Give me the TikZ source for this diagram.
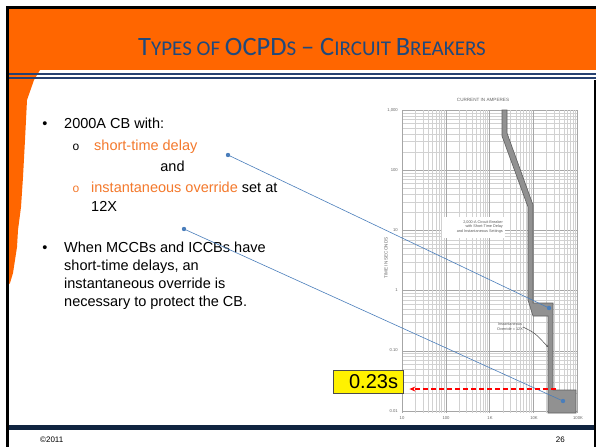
\documentclass[tikz,border=0pt]{standalone}
\usepackage{fontspec}
\setmainfont{Liberation Sans}
\newfontfamily\titlefont{Carlito}
\newfontfamily\monofont{Liberation Mono}
\usetikzlibrary{arrows.meta}

\definecolor{hdrorange}{RGB}{255,102,0}
\definecolor{titlenavy}{RGB}{31,73,125}
\definecolor{rulenavy}{RGB}{37,64,112}
\definecolor{footnavy}{RGB}{16,36,64}
\definecolor{txtorange}{RGB}{244,121,44}
\definecolor{callblue}{RGB}{74,126,187}
\definecolor{curvefill}{RGB}{145,145,145}
\definecolor{curveedge}{RGB}{95,95,95}

% title lettering: full capitals and reduced capitals
\newcommand\tcap[1]{{\fontsize{26.5}{30}\selectfont #1}}
\newcommand\tsml[1]{{\fontsize{21}{24}\selectfont #1}}

\tikzset{
  bodytext/.style={anchor=base west, inner sep=0, font=\fontsize{14.5}{18}\selectfont},
  bulletmark/.style={anchor=base, inner sep=0, font=\fontsize{14.5}{18}\selectfont},
  subbullet/.style={anchor=base, inner sep=0, font=\monofont\fontsize{12}{14}\selectfont},
  gridminor/.style={draw=black!18, line width=0.35pt},
  gridmajor/.style={draw=black!35, line width=0.45pt},
  ticklbl/.style={inner sep=0, text=black!60, font=\fontsize{4.2}{5}\selectfont},
  chartnote/.style={inner sep=0, text=black!65, font=\fontsize{3.8}{4.6}\selectfont},
  calloutline/.style={draw=callblue, line width=0.6pt},
  calldot/.style={fill=callblue},
}

\begin{document}
\begin{tikzpicture}[x=1pt,y=-1pt]
\useasboundingbox (0,0) rectangle (596,447);
\fill[white] (0,0) rectangle (596,447);

% ---------- header ----------
\fill[hdrorange] (9,9) rectangle (596,70);
\fill[hdrorange] (9,70) -- (40,70) -- (34,80) -- (27,100) -- (25,140) -- (23,177)
  -- (21,207) -- (18,230) -- (17,247) -- (15,260) -- (13,273) -- (10,283) -- (9,284) -- cycle;
\draw[rulenavy, line width=2.3pt] (9,73.8) -- (596,73.8);
\draw[rulenavy, line width=2.3pt] (9,78.3) -- (596,78.3);
\node[inner sep=0, text=titlenavy, font=\titlefont] (title) at (312,47)
  {\tcap{T}\tsml{YPES OF }\tcap{OCPD}\tsml{S }\tcap{– C}\tsml{IRCUIT }\tcap{B}\tsml{REAKERS}};

% ---------- frame and footer ----------
\draw[black, line width=3pt] (7.5,6) -- (7.5,447);
\draw[black, line width=2.5pt] (6,7.5) -- (596,7.5);
\draw[black, line width=2pt] (595,80) -- (595,447);
\fill[footnavy] (9,425) rectangle (594,430);
\node[anchor=base west, inner sep=0, font=\fontsize{8}{9}\selectfont] (copy) at (40,442) {©2011};
\node[anchor=base east, inner sep=0, font=\fontsize{8}{9}\selectfont] (pageno) at (565,442) {26};

% ---------- bullet text ----------
\node[bulletmark] (b1) at (45,128) {•};
\node[bodytext] (l1) at (64,128) {2000A CB with:};
\node[subbullet] (s1) at (76,150) {o};
\node[bodytext, text=txtorange] (l2) at (94,150) {short-time delay};
\node[anchor=base, inner sep=0, font=\fontsize{14.5}{18}\selectfont] (l3) at (172.5,171) {and};
\node[subbullet, text=txtorange] (s2) at (76,192) {o};
\node[bodytext] (l4) at (91,192) {\textcolor{txtorange}{instantaneous override} set at};
\node[bodytext] (l5) at (91,211) {12X};
\node[bulletmark] (b2) at (45,252) {•};
\node[bodytext] (l6) at (64,252) {When MCCBs and ICCBs have};
\node[bodytext] (l7) at (64,270) {short-time delays, an};
\node[bodytext] (l8) at (64,288) {instantaneous override is};
\node[bodytext] (l9) at (64,306) {necessary to protect the CB.};

% ---------- time-current chart ----------
% horizontal lines: 0.01 s at y=411, one decade = 60.2
\foreach \d in {-2,-1,0,1,2}{
  \foreach \m in {1,...,9}{
    \pgfmathsetmacro\yy{411-60.2*(\d+2+log10(\m))}
    \ifnum\m=1 \draw[gridmajor] (402,\yy) -- (577,\yy);
    \else \draw[gridminor] (402,\yy) -- (577,\yy); \fi
  }
}
\draw[gridmajor] (402,110) -- (577,110);
% vertical lines: 10 A at x=402, one decade = 43.75
\foreach \d in {1,2,3,4}{
  \foreach \m in {1,...,9}{
    \pgfmathsetmacro\xx{402+43.75*(\d-1+log10(\m))}
    \ifnum\m=1 \draw[gridmajor] (\xx,110) -- (\xx,413);
    \else \draw[gridminor] (\xx,110) -- (\xx,413); \fi
  }
}
\draw[gridmajor] (577,110) -- (577,413);

% axis captions and tick labels
\node[ticklbl, font=\fontsize{4.6}{5.5}\selectfont] (xcap) at (483,100) {CURRENT IN AMPERES};
\node[ticklbl, rotate=90, font=\fontsize{4.6}{5.5}\selectfont] (ycap) at (386,258) {TIME IN SECONDS};
\node[ticklbl, anchor=east] (t1000) at (398,110) {1,000};
\node[ticklbl, anchor=east] (t100) at (398,170) {100};
\node[ticklbl, anchor=east] (t10) at (398,230) {10};
\node[ticklbl, anchor=east] (t1) at (398,290) {1};
\node[ticklbl, anchor=east] (t010) at (398,350) {0.10};
\node[ticklbl, anchor=east] (t001) at (398,411) {0.01};
\node[ticklbl] (a10) at (402,418) {10};
\node[ticklbl] (a100) at (446,418) {100};
\node[ticklbl] (a1k) at (490,418) {1K};
\node[ticklbl] (a10k) at (534,418) {10K};
\node[ticklbl] (a100k) at (578,418) {100K};

% breaker trip band
\filldraw[fill=curvefill, draw=curveedge, line width=0.6pt]
  (502,110) -- (502,136) -- (528,207) -- (528,300) -- (533,316) -- (548,316)
  -- (548,413) -- (576,413) -- (576,390) -- (553,390) -- (553,303) -- (533,303)
  -- (533,205) -- (507,133) -- (507,110) -- cycle;

% chart notes
\fill[white] (442,217) rectangle (505,238);
\node[chartnote, align=right, anchor=east] (cbnote) at (503,227)
  {2,000-A Circuit Breaker\\with Short-Time Delay\\and Instantaneous Settings};
\node[chartnote, align=center] (instnote) at (510,327) {Instantaneous\\Override = 12X};
\coordinate (insttip) at (548,347);
\draw[black!70, line width=0.5pt, -{Stealth[length=2.5pt,width=2pt]}]
  (instnote.east) .. controls (535,333) .. (insttip);

% ---------- callouts ----------
\coordinate (p1) at (228,155);
\coordinate (q1) at (549,308);
\coordinate (p2) at (184,229);
\coordinate (q2) at (563,401);
\draw[calloutline] (p1) -- (q1);
\draw[calloutline] (p2) -- (q2);
\foreach \c in {p1,q1,p2,q2} \fill[calldot] (\c) circle (2.2pt);

% trip time marker
\node[draw=black!70, fill=yellow, line width=0.8pt, minimum width=70pt, minimum height=23pt,
  inner sep=0, text width=60pt, align=right, font=\fontsize{20}{22}\selectfont] (tbox)
  at (368,381.5) {0.23s};
\coordinate (r1) at (556,389);
\draw[red, line width=1.3pt, dash pattern=on 5pt off 3pt, shorten >=6pt,
  -{Stealth[length=6pt,width=5pt]}] (r1) -- (r1 -| tbox.east);

\end{tikzpicture}
\end{document}
